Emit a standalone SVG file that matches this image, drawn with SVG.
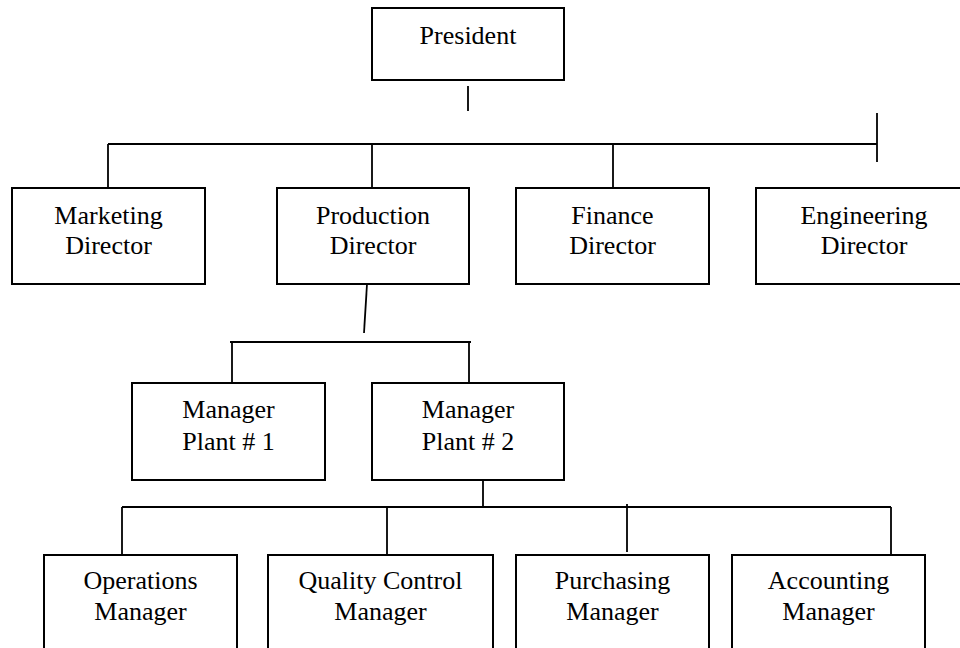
<svg xmlns="http://www.w3.org/2000/svg" width="960" height="648" viewBox="0 0 960 648">
<style>
.box{fill:#fff;stroke:#000;stroke-width:2}
.t{font-family:"Liberation Serif","Times New Roman",serif;font-size:26px;fill:#000;text-anchor:middle}
.c line{stroke:#000;stroke-width:1.8;fill:none}
</style>
<rect width="960" height="648" fill="#fff"/>
<g id="connectors" class="c">
<line x1="468" y1="86" x2="468" y2="111"/>
<line x1="108" y1="144" x2="877" y2="144"/>
<line x1="877" y1="113" x2="877" y2="162"/>
<line x1="108" y1="144" x2="108" y2="192"/>
<line x1="372" y1="144" x2="372" y2="188"/>
<line x1="613" y1="144" x2="613" y2="192"/>
<line x1="367" y1="284" x2="364" y2="333"/>
<line x1="230" y1="342" x2="471" y2="342"/>
<line x1="232" y1="342" x2="232" y2="390"/>
<line x1="469" y1="342" x2="469" y2="390"/>
<line x1="483" y1="480" x2="483" y2="508"/>
<line x1="122" y1="507" x2="891" y2="507"/>
<line x1="122" y1="507" x2="122" y2="555"/>
<line x1="387" y1="507" x2="387" y2="555"/>
<line x1="627" y1="504" x2="627" y2="552"/>
<line x1="891" y1="507" x2="891" y2="555"/>
</g>
<g id="president"><rect class="box" x="372" y="8" width="192" height="72"/><text class="t" x="468" y="44">President</text></g>
<g id="marketing"><rect class="box" x="12" y="188" width="193" height="96"/><text class="t" x="108.5" y="224">Marketing</text><text class="t" x="108.5" y="254">Director</text></g>
<g id="production"><rect class="box" x="277" y="188" width="192" height="96"/><text class="t" x="373" y="224">Production</text><text class="t" x="373" y="254">Director</text></g>
<g id="finance"><rect class="box" x="516" y="188" width="193" height="96"/><text class="t" x="612.5" y="224">Finance</text><text class="t" x="612.5" y="254">Director</text></g>
<g id="engineering"><rect class="box" x="756" y="188" width="216" height="96"/><text class="t" x="864" y="224">Engineering</text><text class="t" x="864" y="254">Director</text></g>
<g id="plant1"><rect class="box" x="132" y="383" width="193" height="97"/><text class="t" x="228.5" y="418">Manager</text><text class="t" x="228.5" y="450">Plant # 1</text></g>
<g id="plant2"><rect class="box" x="372" y="383" width="192" height="97"/><text class="t" x="468" y="418">Manager</text><text class="t" x="468" y="450">Plant # 2</text></g>
<g id="operations"><rect class="box" x="44" y="555" width="193" height="110"/><text class="t" x="140.5" y="589">Operations</text><text class="t" x="140.5" y="620">Manager</text></g>
<g id="quality"><rect class="box" x="268" y="555" width="225" height="110"/><text class="t" x="380.5" y="589">Quality Control</text><text class="t" x="380.5" y="620">Manager</text></g>
<g id="purchasing"><rect class="box" x="516" y="555" width="193" height="110"/><text class="t" x="612.5" y="589">Purchasing</text><text class="t" x="612.5" y="620">Manager</text></g>
<g id="accounting"><rect class="box" x="732" y="555" width="193" height="110"/><text class="t" x="828.5" y="589">Accounting</text><text class="t" x="828.5" y="620">Manager</text></g>
</svg>
